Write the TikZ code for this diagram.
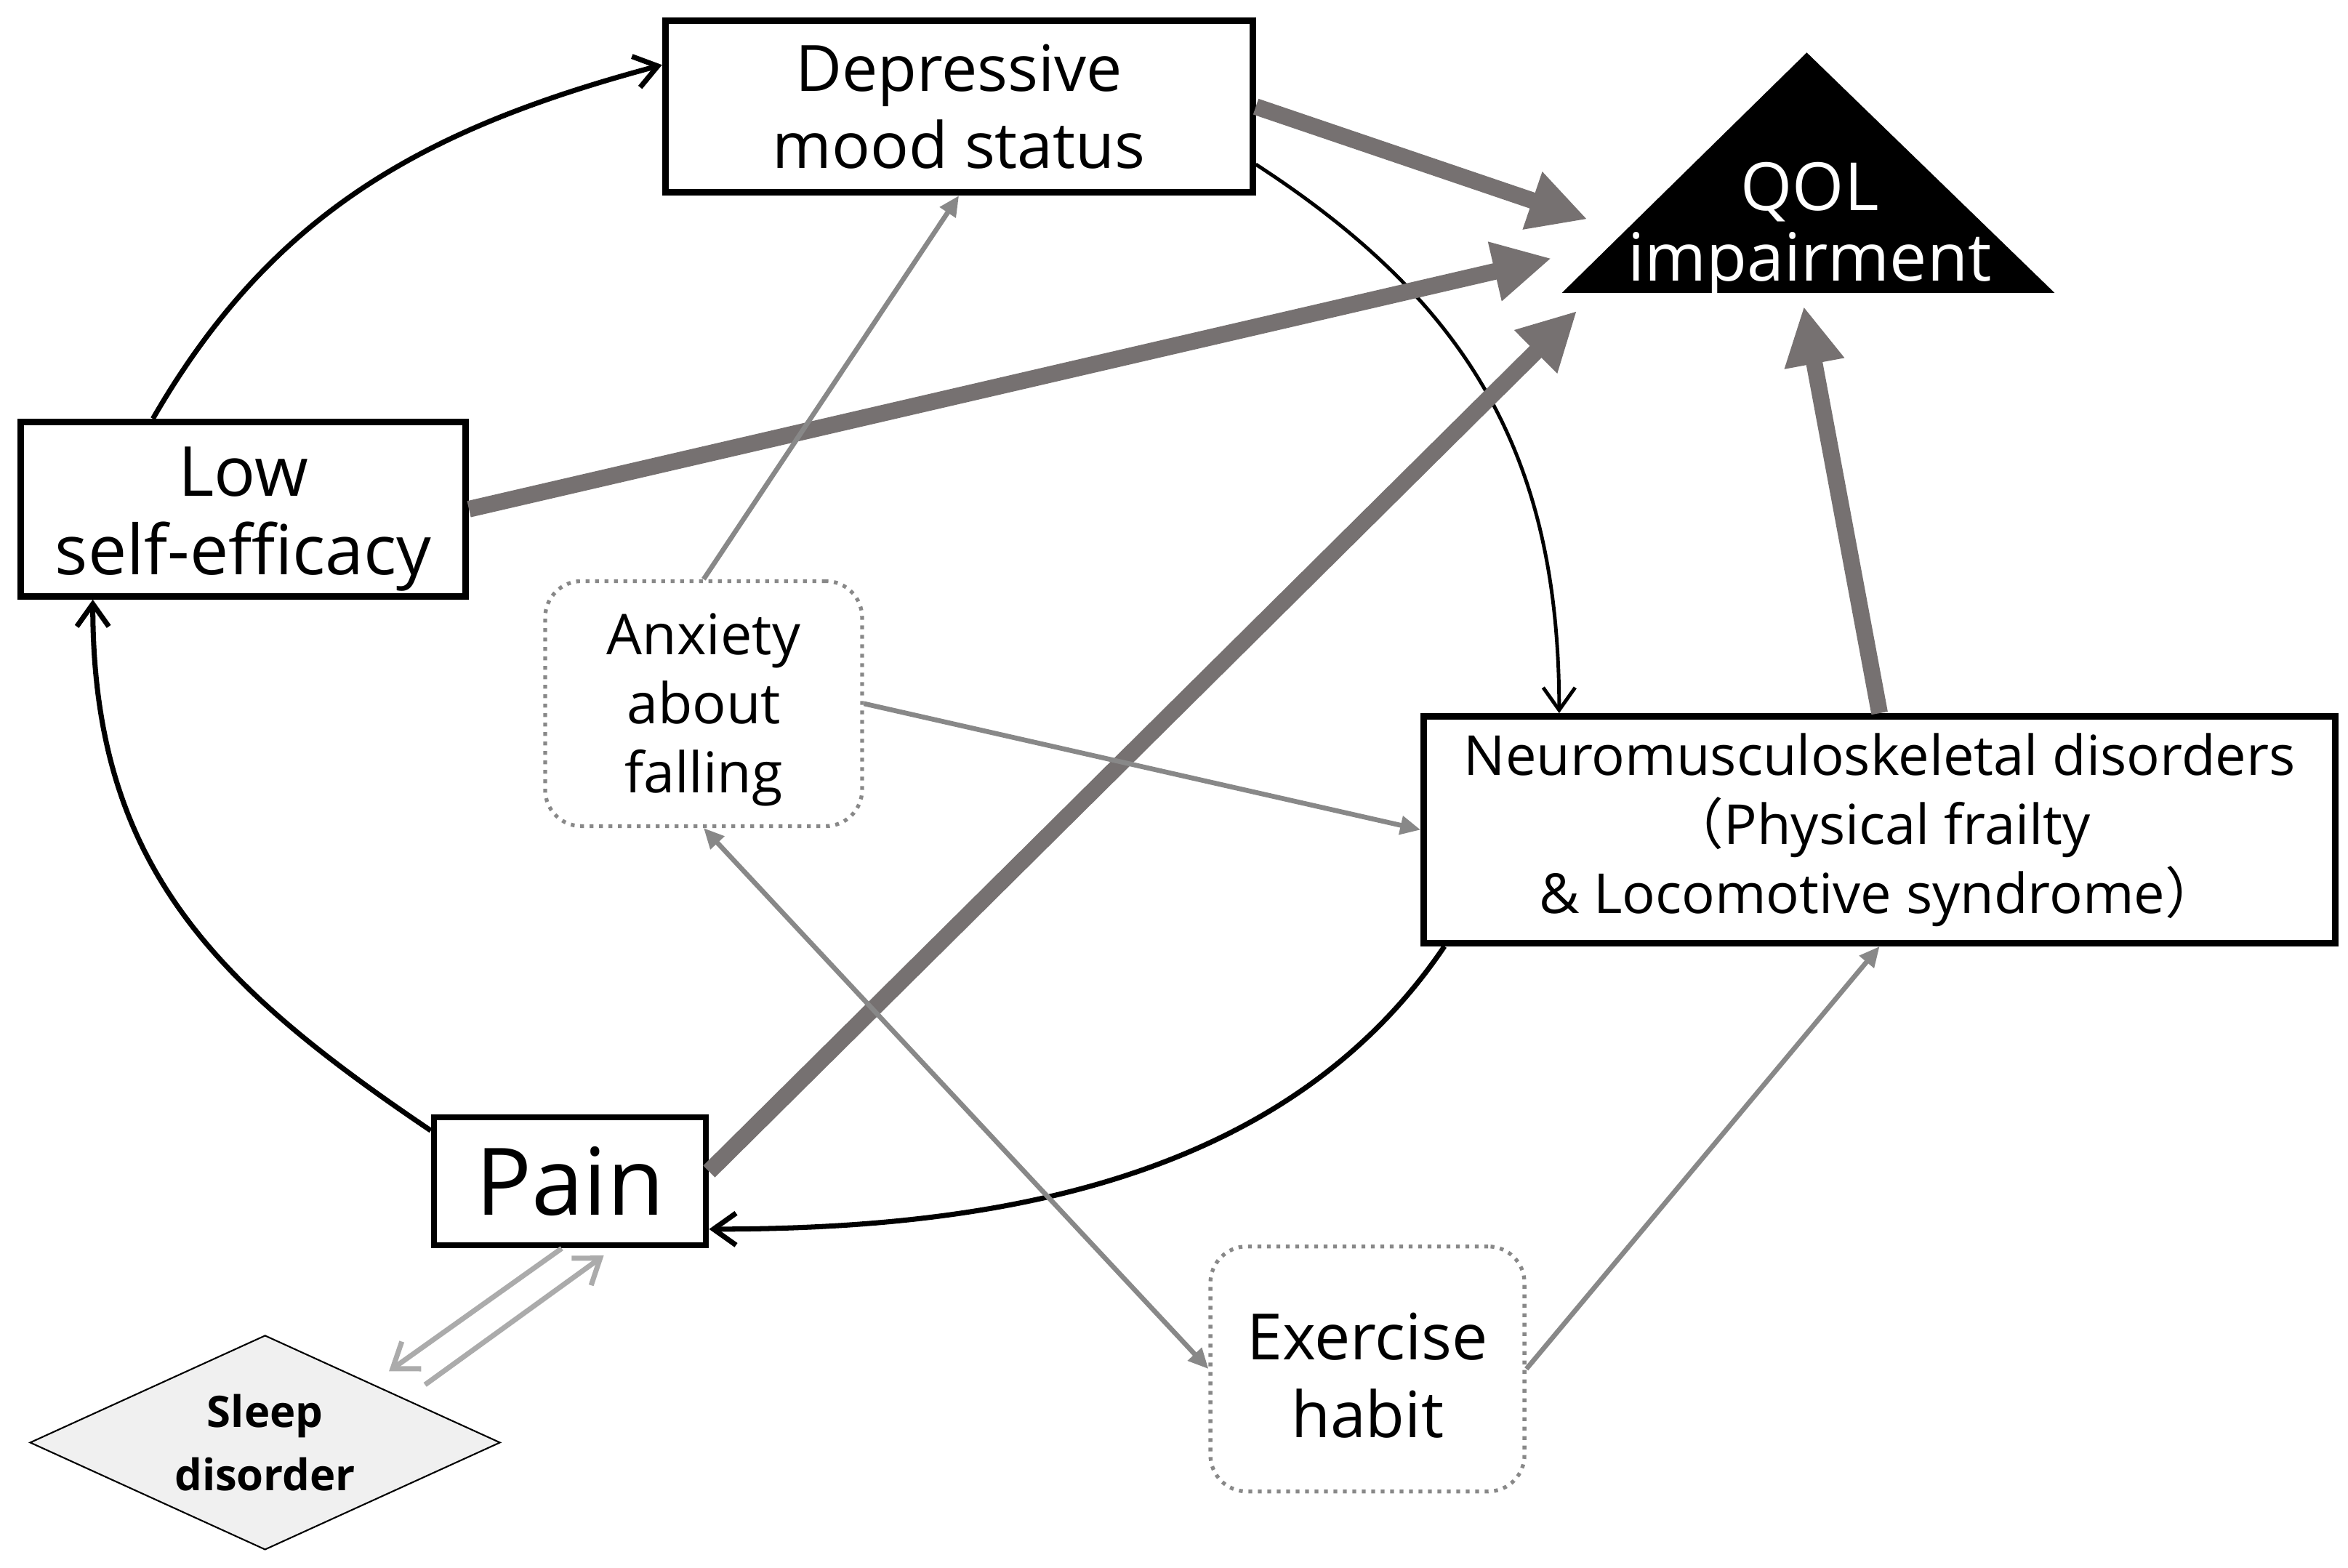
\documentclass[tikz,border=0pt]{standalone}
\usepackage{fontspec}
\setmainfont{Open Sans}
\newfontfamily\cjk{Noto Sans CJK JP}
\usetikzlibrary{arrows.meta,shapes.geometric}

\definecolor{heavygray}{HTML}{767171}
\definecolor{midgray}{HTML}{888888}
\definecolor{palegray}{HTML}{ABABAB}
\definecolor{sleepfill}{HTML}{F0F0F0}

\tikzset{
  factor/.style={draw, line width=2.5pt, align=center, inner sep=0pt, font=\fontsize{25}{30}\selectfont},
  optional/.style={draw=midgray, dash pattern=on 1.5pt off 2.2pt, line width=1.5pt, rounded corners=5mm, align=center, inner sep=0pt},
  loopline/.style={line width=2pt, -{Straight Barb[length=3.1mm,width=4.4mm]}},
  strong/.style={heavygray, line width=6.5pt, -{Triangle[length=8mm,width=7.8mm]}},
  weak/.style={midgray, line width=1.9pt, -{Triangle[length=2.8mm,width=2.5mm]}},
  weakboth/.style={weak, {Triangle[length=2.8mm,width=2.5mm]}-{Triangle[length=2.8mm,width=2.5mm]}},
  sleeplink/.style={palegray, line width=2pt, -{Straight Barb[length=3.2mm,width=4.6mm]}},
}

\begin{document}
\begin{tikzpicture}[x=0.2066mm, y=0.2066mm]
\useasboundingbox (0,0) rectangle (1563.4,-1043.6);

% main factors
\node[factor, minimum width=80.8mm, minimum height=23.6mm] (dep) at (638.5,-71) {Depressive\\mood status};
\node[factor, minimum width=61.2mm, minimum height=24mm, font=\fontsize{27}{30.5}\selectfont] (lowse) at (162,-339) {\rule{0pt}{27pt}Low\\self-efficacy};
\node[factor, minimum width=125.4mm, minimum height=31.2mm, font=\fontsize{21.6}{27}\selectfont] (neuro) at (1251.5,-552.5)
  {Neuromusculoskeletal disorders\\{\cjk （}Physical frailty\\\& Locomotive syndrome{\cjk ）}};
\node[factor, minimum width=37.4mm, minimum height=17.6mm, font=\fontsize{36.5}{40}\selectfont] (pain) at (379.5,-786.5) {Pain};

% other factors
\node[optional, minimum width=43.6mm, minimum height=33.7mm, font=\fontsize{22}{27}\selectfont] (anx) at (468.5,-468.5) {\rule{0pt}{21pt}Anxiety\\about\\falling};
\node[optional, minimum width=43.2mm, minimum height=33.7mm, font=\fontsize{25}{30.5}\selectfont] (ex) at (910.5,-911.5) {\rule{0pt}{23.5pt}Exercise\\habit};
\node[diamond, aspect=2.19, draw, line width=0.6pt, fill=sleepfill, minimum width=64.7mm, minimum height=29.5mm, inner sep=0pt,
  align=center, font=\bfseries\fontsize{17}{24.6}\selectfont] (sleep) at (176.5,-960.5) {Sleep\\disorder};

% outcome
\fill (1203,-35) -- (1040,-195) -- (1368,-195) -- cycle;
\node[text=white, align=center, font=\fontsize{26}{27.5}\selectfont] (qol) at (1205,-153) {QOL\\impairment};
\coordinate (qolA) at (1057,-146);
\coordinate (qolB) at (1033,-172);
\coordinate (qolC) at (1050,-207);
\coordinate (qolD) at (1201,-204);

% vicious cycle
\draw[loopline] (lowse.135) to[out=60, in=195] (dep.172);
\draw[loopline, line width=1.4pt] (dep.-11) to[out=-33, in=90, looseness=1.04] (neuro.160.5);
\draw[loopline] (neuro.195) to[out=236, in=0, looseness=0.92] (pain.-19);
\draw[loopline] (pain.160) to[out=146, in=-90, looseness=1.07] (lowse.211);

% direct effects on QOL
\draw[strong] (dep.east) -- (qolA);
\draw[strong] (lowse.east) -- (qolB);
\draw[strong] (pain.4) -- (qolC);
\draw[strong] (neuro.north) -- (qolD);

% weaker paths
\draw[weak] (anx.north) -- (dep.south);
\draw[weak] (anx.east) -- (neuro.west);
\draw[weakboth] (anx.south) -- (ex.west);
\draw[weak] (ex.east) -- (neuro.south);

% sleep
\coordinate (slpA) at (259,-913);
\coordinate (slpB) at (283,-922);
\coordinate (painB) at (402,-836);
\draw[sleeplink] (pain.263) -- (slpA);
\draw[sleeplink] (slpB) -- (painB);
\end{tikzpicture}
\end{document}
